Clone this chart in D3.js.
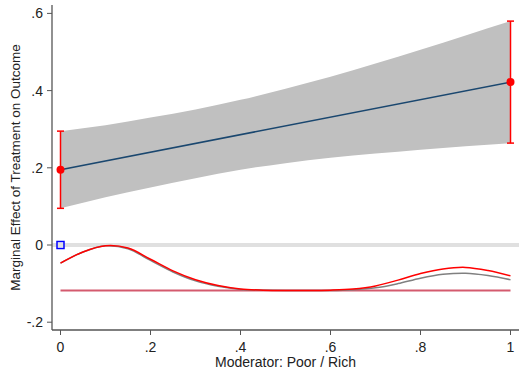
<!DOCTYPE html>
<html>
<head>
<meta charset="utf-8">
<script src="https://cdn.jsdelivr.net/npm/d3@7"></script>
<style>
  body { margin: 0; background: #fff; }
  svg { display: block; font-family: "Liberation Sans", Arial, sans-serif; }
</style>
</head>
<body>
<div id="chart"></div>
<script>
// moderator grid for the confidence band
var bandX = [0, 0.1, 0.2, 0.3, 0.4, 0.5, 0.6, 0.7, 0.8, 0.9, 1];
var bandUpper = [0.295, 0.310, 0.330, 0.351, 0.376, 0.405, 0.436, 0.470, 0.506, 0.543, 0.580];
var bandLower = [0.095, 0.124, 0.149, 0.173, 0.195, 0.212, 0.226, 0.237, 0.247, 0.256, 0.264];

// marginal effect line and endpoint estimates
var effectX = [0, 1];
var effectY = [0.195, 0.422];
var effectLo = [0.095, 0.264];
var effectHi = [0.295, 0.580];

// density of moderator (drawn below zero)
var densX = [0, 0.05, 0.1, 0.15, 0.2, 0.25, 0.3, 0.35, 0.4, 0.45, 0.5, 0.55, 0.6, 0.65, 0.7, 0.75, 0.8, 0.85, 0.9, 0.95, 1];
var densRed = [-0.047, -0.018, -0.002, -0.008, -0.037, -0.067, -0.090, -0.105, -0.114, -0.117, -0.118, -0.118, -0.117, -0.114, -0.106, -0.091, -0.074, -0.062, -0.058, -0.066, -0.080];
var densGray = [-0.047, -0.018, -0.002, -0.010, -0.040, -0.070, -0.093, -0.107, -0.115, -0.117, -0.118, -0.118, -0.118, -0.116, -0.111, -0.100, -0.086, -0.076, -0.073, -0.079, -0.090];
var densBase = -0.118;

var xTicks = [0, 0.2, 0.4, 0.6, 0.8, 1];
var xTickLabels = ["0", ".2", ".4", ".6", ".8", "1"];
var yTicks = [-0.2, 0, 0.2, 0.4, 0.6];
var yTickLabels = ["-.2", "0", ".2", ".4", ".6"];

var w = 519, h = 372;
var padL = 52, padR = 519, padT = 5, padB = 330;

var svg = d3.select("#chart").append("svg")
  .attr("width", w)
  .attr("height", h);

var x = d3.scaleLinear().domain([0, 1]).range([60.5, 510.5]);
var y = d3.scaleLinear().domain([0, 0.6]).range([245, 13.4]);

//zero reference line//
svg.append("line")
  .attr("x1", padL).attr("x2", padR)
  .attr("y1", y(0)).attr("y2", y(0))
  .attr("stroke", "#e0e0e0")
  .attr("stroke-width", 4);

//confidence band//
var band = bandX.map(function(d, i) { return {x: d, lo: bandLower[i], hi: bandUpper[i]}; });
svg.append("path")
  .datum(band)
  .attr("fill", "#c0c0c0")
  .attr("d", d3.area()
    .x(function(d) { return x(d.x); })
    .y0(function(d) { return y(d.lo); })
    .y1(function(d) { return y(d.hi); })
    .curve(d3.curveMonotoneX));

//marginal effect line//
svg.append("path")
  .datum(effectX.map(function(d, i) { return [d, effectY[i]]; }))
  .attr("fill", "none")
  .attr("stroke", "#1a476f")
  .attr("stroke-width", 1.6)
  .attr("d", d3.line()
    .x(function(d) { return x(d[0]); })
    .y(function(d) { return y(d[1]); }));

//density curves//
var densLine = d3.line()
  .x(function(d) { return x(d[0]); })
  .y(function(d) { return y(d[1]); })
  .curve(d3.curveCatmullRom.alpha(0.5));

svg.append("line")
  .attr("x1", x(0)).attr("x2", x(1))
  .attr("y1", y(densBase)).attr("y2", y(densBase))
  .attr("stroke", "#d45a6e")
  .attr("stroke-width", 2);

svg.append("path")
  .datum(densX.map(function(d, i) { return [d, densGray[i]]; }))
  .attr("fill", "none")
  .attr("stroke", "#808080")
  .attr("stroke-width", 1.5)
  .attr("d", densLine);

svg.append("path")
  .datum(densX.map(function(d, i) { return [d, densRed[i]]; }))
  .attr("fill", "none")
  .attr("stroke", "#ff0000")
  .attr("stroke-width", 1.5)
  .attr("d", densLine);

//error bars at the ends//
var ends = effectX.map(function(d, i) { return {x: d, y: effectY[i], lo: effectLo[i], hi: effectHi[i]}; });
var bars = svg.selectAll("g.bar")
  .data(ends)
  .enter()
  .append("g")
  .attr("class", "bar");

bars.append("line")
  .attr("x1", function(d) { return x(d.x); })
  .attr("x2", function(d) { return x(d.x); })
  .attr("y1", function(d) { return y(d.lo); })
  .attr("y2", function(d) { return y(d.hi); })
  .attr("stroke", "#ff0000")
  .attr("stroke-width", 1.5);

["lo", "hi"].forEach(function(k) {
  bars.append("line")
    .attr("x1", function(d) { return x(d.x) - 3.5; })
    .attr("x2", function(d) { return x(d.x) + 3.5; })
    .attr("y1", function(d) { return y(d[k]); })
    .attr("y2", function(d) { return y(d[k]); })
    .attr("stroke", "#ff0000")
    .attr("stroke-width", 1.5);
});

bars.append("circle")
  .attr("cx", function(d) { return x(d.x); })
  .attr("cy", function(d) { return y(d.y); })
  .attr("r", 4)
  .attr("fill", "#ff0000");

//hollow blue square at zero//
svg.append("rect")
  .attr("x", x(0) - 3.5)
  .attr("y", y(0) - 3.5)
  .attr("width", 7)
  .attr("height", 7)
  .attr("fill", "none")
  .attr("stroke", "#0000ff")
  .attr("stroke-width", 1.5);

//axes//
var axisColor = "#555";
svg.append("line")
  .attr("x1", padL).attr("x2", padL)
  .attr("y1", padT).attr("y2", padB)
  .attr("stroke", axisColor).attr("stroke-width", 1.3);
svg.append("line")
  .attr("x1", padL).attr("x2", padR)
  .attr("y1", padB).attr("y2", padB)
  .attr("stroke", axisColor).attr("stroke-width", 1.3);

svg.selectAll("line.ytick")
  .data(yTicks)
  .enter()
  .append("line")
  .attr("class", "ytick")
  .attr("x1", padL - 5).attr("x2", padL)
  .attr("y1", function(d) { return y(d); })
  .attr("y2", function(d) { return y(d); })
  .attr("stroke", axisColor);

svg.selectAll("text.ylab")
  .data(yTicks)
  .enter()
  .append("text")
  .attr("class", "ylab")
  .attr("x", padL - 9)
  .attr("y", function(d) { return y(d) + 5; })
  .attr("text-anchor", "end")
  .attr("font-size", "14px")
  .attr("fill", "#222")
  .text(function(d, i) { return yTickLabels[i]; });

svg.selectAll("line.xtick")
  .data(xTicks)
  .enter()
  .append("line")
  .attr("class", "xtick")
  .attr("x1", function(d) { return x(d); })
  .attr("x2", function(d) { return x(d); })
  .attr("y1", padB).attr("y2", padB + 5)
  .attr("stroke", axisColor);

svg.selectAll("text.xlab")
  .data(xTicks)
  .enter()
  .append("text")
  .attr("class", "xlab")
  .attr("x", function(d) { return x(d); })
  .attr("y", 352)
  .attr("text-anchor", "middle")
  .attr("font-size", "14px")
  .attr("fill", "#222")
  .text(function(d, i) { return xTickLabels[i]; });

svg.append("text")
  .attr("x", (padL + padR) / 2)
  .attr("y", 367)
  .attr("text-anchor", "middle")
  .attr("font-size", "14px")
  .attr("fill", "#222")
  .text("Moderator: Poor / Rich");

svg.append("text")
  .attr("transform", "translate(20," + ((padT + padB) / 2) + ") rotate(-90)")
  .attr("text-anchor", "middle")
  .attr("font-size", "13.5px")
  .attr("fill", "#222")
  .text("Marginal Effect of Treatment on Outcome");
</script>
</body>
</html>
